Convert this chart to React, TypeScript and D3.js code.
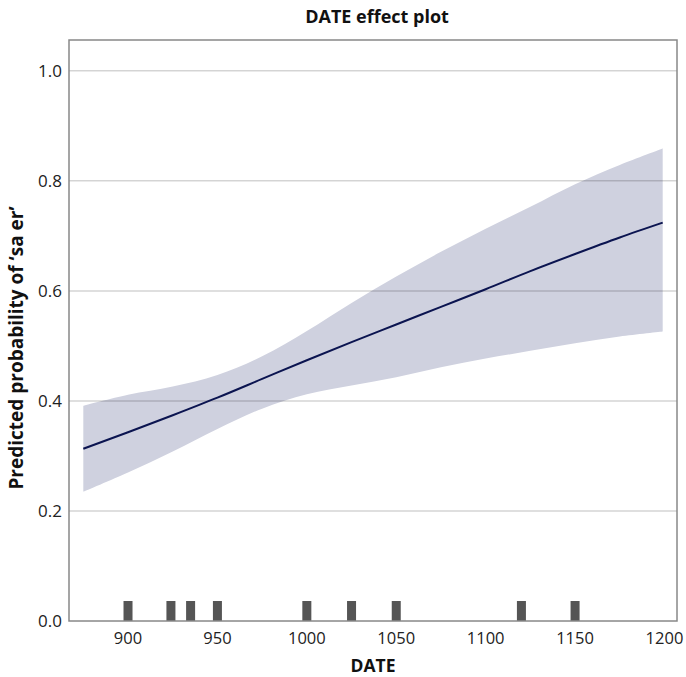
import * as d3 from "d3";

// effect estimates
const dates = [875, 900, 925, 950, 975, 1000, 1025, 1050, 1075, 1100, 1125, 1150, 1175, 1199];
const fit = [0.313, 0.343, 0.374, 0.406, 0.44, 0.474, 0.507, 0.539, 0.571, 0.603, 0.636, 0.667, 0.697, 0.724];
const upper = [0.391, 0.411, 0.426, 0.447, 0.481, 0.527, 0.578, 0.626, 0.671, 0.713, 0.753, 0.794, 0.829, 0.859];
const lower = [0.235, 0.27, 0.308, 0.349, 0.386, 0.412, 0.428, 0.443, 0.461, 0.477, 0.491, 0.505, 0.517, 0.526];

// observed DATE values (rug)
const rugDates = [900, 924, 935, 950, 1000, 1025, 1050, 1120, 1150];

const xTicks = [900, 950, 1000, 1050, 1100, 1150, 1200];
const yTicks = [0, 0.2, 0.4, 0.6, 0.8, 1.0];

const width = 686;
const height = 677;
const margin = { top: 40, right: 9, bottom: 56, left: 69 };
const font = "'Open Sans', 'DejaVu Sans', sans-serif";

export default function App() {
  const x = d3
    .scaleLinear()
    .domain([867, 1207])
    .range([margin.left, width - margin.right]);
  const y = d3
    .scaleLinear()
    .domain([0, 1.056])
    .range([height - margin.bottom, margin.top]);

  const rows = dates.map((d, i) => ({ d, fit: fit[i], lo: lower[i], hi: upper[i] }));

  const band = d3
    .area<any>()
    .x((r) => x(r.d))
    .y0((r) => y(r.lo))
    .y1((r) => y(r.hi))
    .curve(d3.curveCatmullRom);
  const line = d3
    .line<any>()
    .x((r) => x(r.d))
    .y((r) => y(r.fit))
    .curve(d3.curveMonotoneX);

  const [x0, x1] = x.range();
  const [yb, yt] = y.range();

  return (
    <svg
      width={width}
      height={height}
      style={{ position: "absolute", left: 0, top: 0, background: "#fff" }}
      fontFamily={font}
    >
      <path d={band(rows) ?? ""} fill="#cfd1df" />

      {/* grid over the band */}
      {yTicks
        .filter((t) => t > 0)
        .map((t) => (
          <line
            key={t}
            x1={x0}
            x2={x1}
            y1={y(t)}
            y2={y(t)}
            stroke="#000"
            strokeOpacity={0.17}
            strokeWidth={1.5}
          />
        ))}

      <path d={line(rows) ?? ""} fill="none" stroke="#0b1450" strokeWidth={2} />

      {rugDates.map((d, i) => (
        <rect key={i} x={x(d) - 4.5} y={yb - 20} width={9} height={20} fill="#555" />
      ))}

      <rect
        x={x0}
        y={yt}
        width={x1 - x0}
        height={yb - yt}
        fill="none"
        stroke="#888"
        strokeWidth={1.5}
      />

      {yTicks.map((t) => (
        <text
          key={t}
          x={x0 - 7}
          y={y(t)}
          dy="0.36em"
          textAnchor="end"
          fontSize={17}
          fill="#222"
        >
          {d3.format(".1f")(t)}
        </text>
      ))}

      {xTicks.map((t) => (
        <text key={t} x={x(t)} y={644} textAnchor="middle" fontSize={16.5} fill="#222">
          {t}
        </text>
      ))}

      <text
        x={(x0 + x1) / 2 + 4}
        y={23}
        textAnchor="middle"
        fontSize={18}
        fontWeight="bold"
        fill="#111"
      >
        DATE effect plot
      </text>
      <text
        x={(x0 + x1) / 2}
        y={672}
        textAnchor="middle"
        fontSize={17.5}
        fontWeight="bold"
        fill="#111"
      >
        DATE
      </text>
      <text
        transform={`translate(23, 348) rotate(-90)`}
        textAnchor="middle"
        fontSize={19}
        fontWeight="bold"
        fill="#111"
      >
        Predicted probability of ‘sa er’
      </text>
    </svg>
  );
}
